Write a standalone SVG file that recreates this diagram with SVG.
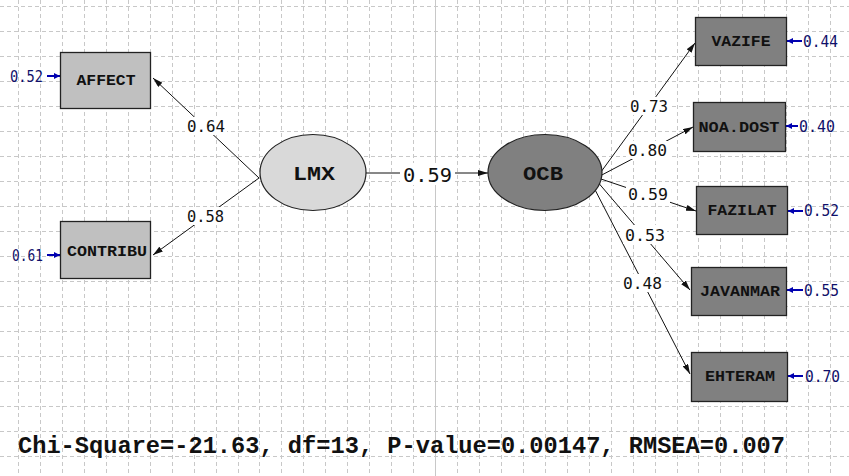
<svg xmlns="http://www.w3.org/2000/svg" width="849" height="476" viewBox="0 0 849 476">
<defs>
<style>
.grid{stroke:#c8c8c8;stroke-width:1;stroke-dasharray:4 3;fill:none}
.box1{fill:#c0c0c0;stroke:#222;stroke-width:1.3}
.box2{fill:#808080;stroke:#222;stroke-width:1.3}
.nl{font-family:"Liberation Mono","DejaVu Sans Mono",monospace;font-weight:bold;font-size:14px;fill:#111;text-anchor:middle}
.big{font-size:20px}
.pl{font-family:"DejaVu Sans Mono","Liberation Mono",monospace;font-size:16px;fill:#111}
.el{font-family:"DejaVu Sans Mono","Liberation Mono",monospace;font-size:15px;fill:#10106a}
.bg{fill:#fff}
.path{stroke:#111;stroke-width:1;fill:none;marker-end:url(#ah)}
.err{stroke:#0000b0;stroke-width:2;fill:none;marker-end:url(#eh)}
</style>
<marker id="ah" viewBox="0 0 10 6" refX="10" refY="3" markerWidth="10" markerHeight="6" markerUnits="userSpaceOnUse" orient="auto">
<path d="M0 0L10 3L0 6z" fill="#111"/>
</marker>
<marker id="eh" viewBox="0 0 6 6" refX="6" refY="3" markerWidth="6" markerHeight="6" markerUnits="userSpaceOnUse" orient="auto">
<path d="M0 0L6 3L0 6z" fill="#0000b0"/>
</marker>
</defs>
<rect width="849" height="476" fill="#fff"/>
<g id="grid">
<path class="grid" d="M18.5 0V476M40.5 0V476M62.5 0V476M84.5 0V476M106.5 0V476M128.5 0V476M150.5 0V476M172.5 0V476M194.5 0V476M216.5 0V476M238.5 0V476M259.5 0V476M281.5 0V476M303.5 0V476M325.5 0V476M347.5 0V476M369.5 0V476M391.5 0V476M413.5 0V476M457.5 0V476M479.5 0V476M501.5 0V476M523.5 0V476M545.5 0V476M567.5 0V476M589.5 0V476M611.5 0V476M633.5 0V476M655.5 0V476M677.5 0V476M698.5 0V476M720.5 0V476M742.5 0V476M764.5 0V476M786.5 0V476M808.5 0V476M830.5 0V476"/>
<path class="grid" d="M0 6.5H849M0 31.5H849M0 56.5H849M0 81.5H849M0 106.5H849M0 131.5H849M0 156.5H849M0 181.5H849M0 206.5H849M0 231.5H849M0 256.5H849M0 281.5H849M0 306.5H849M0 331.5H849M0 356.5H849M0 381.5H849M0 406.5H849M0 431.5H849M0 456.5H849"/>
<path d="M435.5 0V476" stroke="#c8c8c8" stroke-width="1"/>
</g>
<g id="connectors">
<path class="path" d="M259 178L153 78"/>
<path class="path" d="M259 178L153 255"/>
<path class="path" d="M366 173L488 173"/>
<path class="path" d="M598 176L695 43"/>
<path class="path" d="M598 177L693 127"/>
<path class="path" d="M598 178L696 211"/>
<path class="path" d="M596 180L690 290"/>
<path class="path" d="M590 180L690 374"/>
<path class="err" d="M47 76H60"/>
<path class="err" d="M47 255H60"/>
<path class="err" d="M802 41H787"/>
<path class="err" d="M798 126H786"/>
<path class="err" d="M803 211H788"/>
<path class="err" d="M803 290H787"/>
<path class="err" d="M803 376H788"/>
<g id="path-labels">
<rect class="bg" x="185" y="117" width="42" height="18"/>
<text class="pl" x="187" y="132" textLength="38" lengthAdjust="spacingAndGlyphs">0.64</text>
<rect class="bg" x="185" y="207" width="41" height="18"/>
<text class="pl" x="187" y="222" textLength="37" lengthAdjust="spacingAndGlyphs">0.58</text>
<rect class="bg" x="400" y="163" width="55" height="22"/>
<text class="pl" x="403" y="182" textLength="49" lengthAdjust="spacingAndGlyphs" style="font-size:20px">0.59</text>
<rect class="bg" x="628" y="97" width="42" height="18"/>
<text class="pl" x="630" y="112" textLength="38" lengthAdjust="spacingAndGlyphs">0.73</text>
<rect class="bg" x="626" y="141" width="43" height="18"/>
<text class="pl" x="628" y="156" textLength="39" lengthAdjust="spacingAndGlyphs">0.80</text>
<rect class="bg" x="626" y="185" width="44" height="18"/>
<text class="pl" x="628" y="200" textLength="40" lengthAdjust="spacingAndGlyphs">0.59</text>
<rect class="bg" x="623" y="225" width="44" height="19"/>
<text class="pl" x="625" y="241" textLength="40" lengthAdjust="spacingAndGlyphs">0.53</text>
<rect class="bg" x="621" y="274" width="43" height="18"/>
<text class="pl" x="623" y="289" textLength="39" lengthAdjust="spacingAndGlyphs">0.48</text>
</g>
</g>
<g id="AFFECT">
<rect class="box1" x="60.5" y="52.5" width="90" height="56"/>
<text class="nl" x="106" y="85" textLength="59" lengthAdjust="spacingAndGlyphs">AFFECT</text>
<text class="el" x="10" y="82" textLength="33" lengthAdjust="spacingAndGlyphs">0.52</text>
</g>
<g id="CONTRIBU">
<rect class="box1" x="60.5" y="221.5" width="90" height="57"/>
<text class="nl" x="107" y="256" textLength="80" lengthAdjust="spacingAndGlyphs">CONTRIBU</text>
<text class="el" x="12" y="261" textLength="31" lengthAdjust="spacingAndGlyphs">0.61</text>
</g>
<g id="LMX">
<ellipse cx="313" cy="172.5" rx="53" ry="38" fill="#d9d9d9" stroke="#222" stroke-width="1.2"/>
<text class="nl big" x="314" y="180" textLength="42" lengthAdjust="spacingAndGlyphs">LMX</text>
</g>
<g id="OCB">
<ellipse cx="545" cy="172.5" rx="57" ry="38" fill="#808080" stroke="#222" stroke-width="1.2"/>
<text class="nl big" x="543" y="180" textLength="40" lengthAdjust="spacingAndGlyphs">OCB</text>
</g>
<g id="VAZIFE">
<rect class="box2" x="695.5" y="17.5" width="91" height="48"/>
<text class="nl" x="741" y="46" textLength="59" lengthAdjust="spacingAndGlyphs">VAZIFE</text>
<text class="el" x="803" y="47" textLength="35" lengthAdjust="spacingAndGlyphs">0.44</text>
</g>
<g id="NOA.DOST">
<rect class="box2" x="693.5" y="102.5" width="92" height="49"/>
<text class="nl" x="739" y="132" textLength="81" lengthAdjust="spacingAndGlyphs">NOA.DOST</text>
<text class="el" x="799" y="132" textLength="36" lengthAdjust="spacingAndGlyphs">0.40</text>
</g>
<g id="FAZILAT">
<rect class="box2" x="696.5" y="186.5" width="91" height="48"/>
<text class="nl" x="742" y="215" textLength="69" lengthAdjust="spacingAndGlyphs">FAZILAT</text>
<text class="el" x="804" y="216" textLength="35" lengthAdjust="spacingAndGlyphs">0.52</text>
</g>
<g id="JAVANMAR">
<rect class="box2" x="691.5" y="267.5" width="95" height="48"/>
<text class="nl" x="740" y="296" textLength="80" lengthAdjust="spacingAndGlyphs">JAVANMAR</text>
<text class="el" x="804" y="296" textLength="35" lengthAdjust="spacingAndGlyphs">0.55</text>
</g>
<g id="EHTERAM">
<rect class="box2" x="691.5" y="352.5" width="96" height="49"/>
<text class="nl" x="740" y="381" textLength="70" lengthAdjust="spacingAndGlyphs">EHTERAM</text>
<text class="el" x="805" y="382" textLength="35" lengthAdjust="spacingAndGlyphs">0.70</text>
</g>
<text x="18" y="453" font-family="Liberation Mono, DejaVu Sans Mono, monospace" font-weight="bold" font-size="24" fill="#111" textLength="767" lengthAdjust="spacingAndGlyphs">Chi-Square=-21.63, df=13, P-value=0.00147, RMSEA=0.007</text>
</svg>
